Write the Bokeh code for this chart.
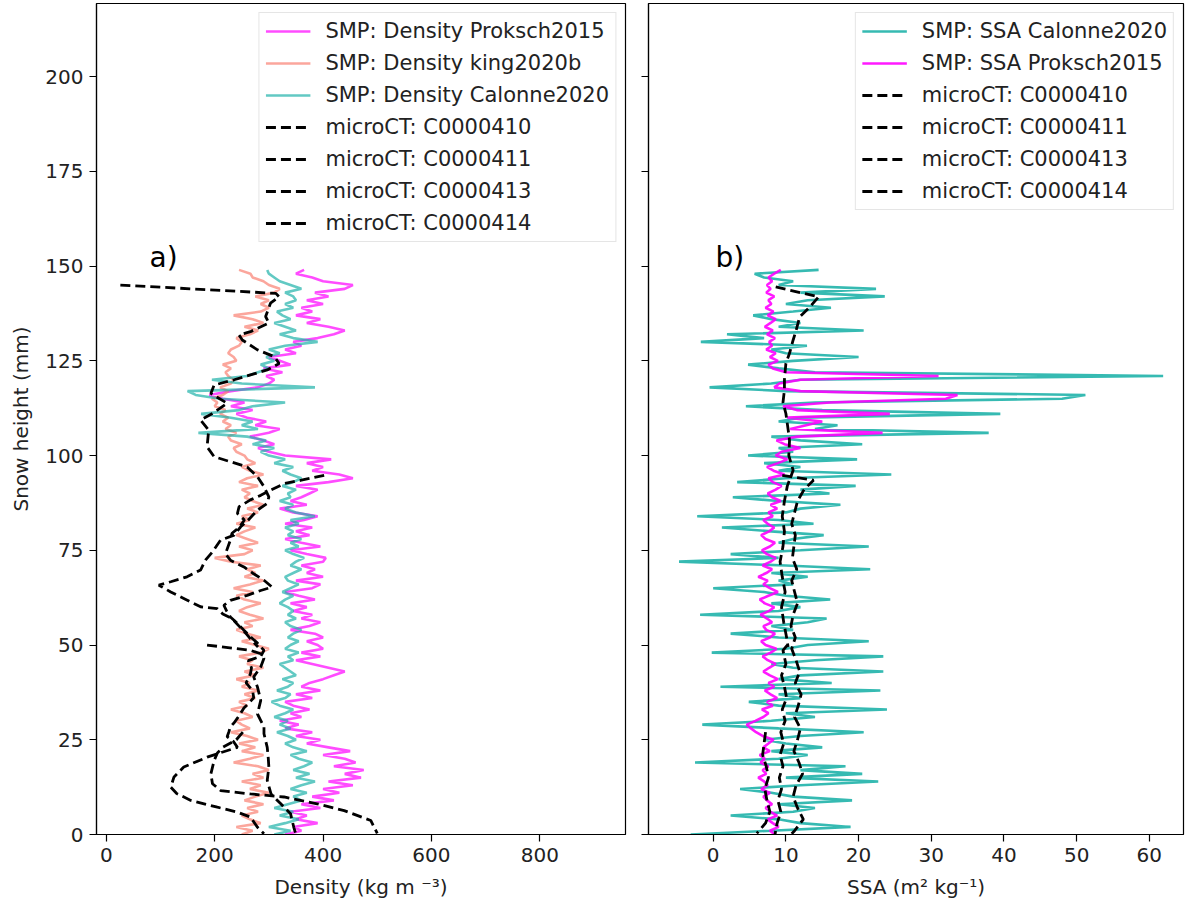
from bokeh.plotting import figure
from bokeh.layouts import row
from bokeh.models import Range1d, FixedTicker, Legend, LegendItem, Label, CustomJSTickFormatter
from bokeh.embed import file_html
from bokeh.resources import INLINE

# ---------------- data ----------------
smp_height = list(range(150))  # mm, SMP sample heights

density_proksch = [
    330, 360, 345, 390, 350, 370, 340, 395, 360, 420,
    380, 430, 400, 455, 410, 470, 440, 475, 420, 460,
    440, 400, 450, 410, 370, 395, 350, 380, 330, 355,
    320, 360, 340, 375, 345, 330, 380, 350, 395, 360,
    375, 400, 420, 440, 410, 380, 350, 395, 360, 400,
    390, 370, 400, 385, 340, 375, 395, 360, 380, 345,
    370, 340, 385, 355, 330, 380, 395, 350, 400, 370,
    385, 360, 400, 405, 370, 340, 395, 360, 330, 375,
    350, 380, 330, 365, 390, 345, 320, 370, 340, 360,
    375, 390, 350, 410, 455, 430, 380, 400, 370, 415,
    330, 300, 280, 310, 290, 265, 300, 320, 275, 295,
    260, 240, 270, 230, 255, 215, 190, 230, 280, 300,
    310, 295, 325, 290, 340, 320, 300, 350, 330, 360,
    345, 390, 420, 440, 410, 370, 395, 350, 380, 360,
    400, 370, 410, 385, 440, 455, 400, 380, 350, 365]

density_king = [
    250, 270, 240, 285, 265, 250, 280, 260, 290, 255,
    275, 300, 265, 285, 250, 290, 270, 300, 280, 235,
    265, 290, 250, 275, 245, 280, 260, 230, 265, 250,
    240, 270, 255, 230, 260, 245, 275, 255, 280, 250,
    265, 240, 275, 255, 290, 260, 270, 245, 285, 300,
    275, 250, 285, 260, 240, 270, 255, 290, 265, 245,
    260, 285, 255, 240, 270, 235, 265, 290, 255, 275,
    260, 285, 230, 200, 255, 270, 245, 280, 260, 240,
    255, 275, 240, 265, 250, 280, 260, 290, 270, 255,
    265, 250, 280, 245, 260, 290, 265, 250, 275, 260,
    255, 240, 235, 250, 230, 225, 240, 220, 230, 215,
    225, 210, 220, 200, 205, 195, 215, 225, 210, 230,
    235, 225, 220, 230, 215, 240, 235, 225, 230, 245,
    250, 240, 265, 280, 255, 290, 270, 235, 285, 300,
    285, 300, 275, 310, 320, 300, 290, 270, 266, 245]

density_calonne = [
    310, 340, 300, 330, 355, 320, 345, 310, 335, 360,
    345, 370, 340, 360, 385, 350, 375, 345, 365, 380,
    355, 340, 370, 345, 330, 350, 335, 315, 340, 320,
    335, 310, 330, 345, 320, 305, 330, 340, 315, 335,
    345, 325, 350, 340, 330, 320, 345, 335, 355, 330,
    340, 355, 335, 345, 360, 340, 330, 350, 335, 345,
    335, 320, 330, 345, 325, 340, 355, 335, 330, 345,
    360, 340, 350, 365, 345, 330, 355, 340, 360, 335,
    345, 330, 355, 340, 385, 350, 330, 345, 320, 340,
    335, 350, 325, 345, 360, 340, 325, 345, 310, 330,
    300, 285, 310, 270, 295, 260, 170, 280, 250, 270,
    230, 175, 245, 270, 330, 210, 165, 150, 385, 250,
    195, 260, 280, 300, 285, 310, 295, 320, 300, 330,
    390, 345, 320, 350, 330, 310, 340, 325, 315, 345,
    330, 350, 345, 330, 360, 340, 320, 310, 300, 297]

ssa_calonne = [
    -3.1, 8, 18.9, 12, 9, 2.4, 11, 14, 9, 19.1,
    11, 8, 3.7, 12, 22.7, 10, 20.5, 12, 18.2, -2.5,
    9, 13, 8, 15, 10, 7, 12, 20.7, 9, -1.5,
    8, 14, 10, 23.9, 9, 4.9, 12, 9, 23, 1,
    16.3, 9, 12, 23.4, 11, 8, 14, 23.4, -0.2, 10,
    13, 21.4, 9, 2.4, 11, 8, 13, 15.6, -1.8, 9,
    12, 8, 16.1, 10, 7, 0, 11, 9, 13, 8,
    21.6, 10, -4.7, 9, 2.4, 12, 21.4, 9, 11, 15.2,
    8, 1.2, 13.8, 9, -2.2, 10, 12, 17.5, 9, 2.7,
    16, 12, 19.6, 3.3, 10, 24.5, 9, 12, 7, 19.8,
    4.8, 11, 9, 20.5, 12, 8, 37.9, 14, 17.1, 9,
    12, 39.5, 15, 4.5, 14, 48, 51.2, 10, -0.5, 8,
    12, 61.9, 14, 9, 4.8, 11, 20, 10, 8, 12.9,
    -1.7, 7, 1.9, 20.7, 9, 12, 8, 5.5, 11, 16.2,
    10, 13, 23.6, 12, 22.4, 9, 11, 7, 5.7, 14.5]

ssa_proksch = [
    8.5, 7.8, 9, 8.2, 7.5, 8.8, 7.9, 7.2, 8.1, 7.4,
    6.9, 7.8, 6.6, 7.5, 7, 6.2, 7.3, 6.8, 7.6, 6.5,
    7.1, 6.4, 7.8, 6.9, 7.6, 8.3, 6.8, 5.9, 5.2, 4.6,
    5.8, 6.9, 7.6, 6.7, 8.2, 7.4, 8.8, 7.9, 7.1, 8.4,
    7.6, 8.9, 7.8, 6.9, 7.7, 8.6, 7.5, 6.8, 7.9, 8.7,
    7.2, 6.6, 7.8, 8.5, 7.3, 6.9, 8.1, 7.4, 6.5, 7.7,
    8.4, 7.1, 6.4, 7.6, 8.9, 7.8, 6.9, 7.5, 6.2, 7.3,
    8.1, 6.8, 7.9, 8.6, 7.4, 6.7, 7.8, 8.5, 7.2, 6.6,
    7.7, 8.4, 7.5, 6.9, 8.2, 7.6, 8.8, 7.9, 9.3, 8.1,
    7.5, 8.6, 9.4, 8.2, 7.6, 9.8, 8.3, 7.4, 8.9, 10.2,
    8.6, 9.4, 12, 9.8, 8.7, 11.5, 23.3, 10.6, 12.8, 15,
    10.2, 24.3, 11.5, 9.6, 16, 32, 33.6, 12, 8.4, 9.1,
    12, 31, 10, 8.2, 7.6, 8.9, 7.8, 8.6, 7.3, 8.1,
    7.7, 8.5, 7.4, 8.2, 7.1, 7.9, 8.6, 7.5, 8.3, 7.2,
    8, 7.6, 8.4, 7.3, 7.9, 7.4, 8.1, 7.6, 8.4, 9.3]

# microCT density profiles (height mm, density kg m-3)
ct410_density_h = [145.0, 142.8, 141.9, 140.2, 136.7, 135.0, 132.7, 131.8, 130.5, 127.9,
                   126.1, 124.3, 122.6, 120.0, 118.6, 116.4, 113.8, 111.1, 109.4, 106.7,
                   102.3, 99.7, 97.0, 94.4, 91.8, 89.1, 87.4, 85.6, 83.0, 81.2,
                   79.0, 77.7, 74.6, 72.4, 69.8, 68.0, 66.7, 65.8, 64.0, 62.3,
                   60.1, 59.6, 58.2, 57.0, 55.0, 53.0, 51.0, 49.5]
ct410_density = [26, 313, 319, 303, 294, 300, 266, 245, 251, 279,
                 310, 319, 297, 236, 199, 193, 223, 196, 174, 189,
                 186, 199, 260, 279, 291, 300, 297, 279, 262, 248,
                 236, 211, 196, 183, 174, 149, 119, 97, 119, 143,
                 174, 205, 215, 232, 245, 258, 270, 280]

ct411_density_h = [94.8, 93.5, 92.6, 90.9, 89.5, 88.3, 86.5, 84.7, 83.0, 81.0,
                   79.5, 77.7, 74.1, 72.4, 70.6, 68.8, 67.1, 65.3, 64.4, 63.1,
                   61.8, 60.5, 59.0, 57.4, 55.7, 53.9, 52.2, 50.5, 48.6, 47.0,
                   45.9, 44.0, 42.4, 40.0, 38.0, 36.1, 34.5, 33.4, 32.0, 30.7,
                   29.5, 28.4, 27.0, 25.8, 24.5, 23.0, 21.3, 20.4, 17.8, 15.2,
                   12.5, 10.8, 9.0, 7.2, 5.9, 4.6, 1.9, 0.2]
ct411_density = [402, 360, 328, 304, 285, 266, 245, 242, 255, 245,
                 232, 229, 220, 229, 254, 272, 291, 306, 285, 260,
                 229, 217, 222, 229, 242, 254, 266, 279, 291, 285,
                 262, 268, 266, 258, 270, 272, 262, 254, 248, 242,
                 236, 229, 226, 223, 235, 242, 205, 186, 143, 125,
                 119, 130, 156, 205, 242, 266, 279, 291]

ct413_density_h = [50.0, 48.6, 47.7, 46.5, 44.2, 41.6, 38.9, 35.4, 31.8, 28.4,
                   26.6, 23.0, 20.0, 17.8, 14.3, 10.7, 8.1, 5.5, 1.9, 0.0]
ct413_density = [186, 266, 285, 291, 285, 272, 279, 285, 279, 291,
                 291, 297, 299, 300, 297, 304, 322, 340, 346, 350]

ct414_density_h = [27.0, 25.0, 23.0, 21.5, 19.5, 16.0, 13.4, 11.6, 10.7, 9.9,
                   8.1, 6.3, 3.7, 0.3]
ct414_density = [252, 240, 215, 205, 199, 193, 196, 211, 266, 328,
                 389, 439, 488, 500]

# microCT SSA profiles (height mm, SSA m2 kg-1)
ct410_ssa_h = [144.5, 141.9, 139.0, 136.6, 133.0, 130.5, 127.0, 124.3, 120.0, 117.3,
               114.0, 111.1, 107.0, 104.0, 100.0, 96.1, 92.0, 88.0, 84.0, 80.0,
               76.0, 72.0, 68.0, 64.0, 60.0, 56.0, 52.0, 49.5]
ct410_ssa = [8.6, 14.5, 13.2, 11.9, 11.4, 11.0, 10.5, 10.0, 9.8, 9.8,
             9.6, 10.0, 10.3, 10.5, 10.4, 11.0, 10.2, 9.8, 9.5, 9.8,
             9.6, 9.2, 9.5, 9.9, 9.4, 9.7, 10.1, 10.3]

ct411_ssa_h = [94.8, 93.5, 91.0, 88.0, 85.0, 82.0, 79.0, 76.0, 73.0, 70.0,
               67.0, 64.0, 61.0, 58.0, 55.0, 52.0, 49.0, 46.0, 43.0, 40.0,
               37.0, 34.0, 31.0, 28.0, 25.0, 22.0, 19.0, 16.0, 13.0, 10.0,
               7.0, 4.0, 1.0, 0.2]
ct411_ssa = [9.5, 13.8, 12.5, 11.6, 11.2, 10.8, 11.3, 11.1, 10.9, 11.5,
             10.8, 11.2, 11.6, 11.0, 10.7, 11.3, 10.8, 11.4, 11.9, 11.3,
             12.1, 11.7, 11.2, 12.0, 11.6, 11.1, 11.8, 12.3, 11.4, 11.0,
             11.6, 12.4, 11.2, 10.8]

ct413_ssa_h = [50.0, 48.6, 45.0, 42.0, 39.0, 36.0, 33.0, 30.0, 27.0, 24.0,
               21.0, 18.0, 15.0, 12.0, 9.0, 6.0, 3.0, 0.0]
ct413_ssa = [10.2, 9.6, 10.0, 9.4, 9.8, 10.1, 9.5, 9.9, 9.3, 9.7,
             9.2, 9.6, 9.1, 9.4, 8.9, 9.3, 8.8, 8.5]

ct414_ssa_h = [27.0, 24.0, 21.0, 18.0, 15.0, 12.0, 9.0, 6.0, 3.0, 0.3]
ct414_ssa = [7.2, 7.0, 6.8, 7.3, 7.6, 7.1, 7.4, 7.8, 7.2, 6.0]

y_ticks = [0, 25, 50, 75, 100, 125, 150, 175, 200]
density_ticks = [0, 200, 400, 600, 800]
ssa_ticks = [0, 10, 20, 30, 40, 50, 60]
ct_names = ["microCT: C0000410", "microCT: C0000411", "microCT: C0000413", "microCT: C0000414"]

# ---------------- styling ----------------
FONT = "DejaVu Sans"
TXT = "#222222"
y_range = Range1d(0, 219.3)


def style(p, xticks, xlabel, ylabel):
    p.xgrid.visible = False
    p.ygrid.visible = False
    p.xaxis.ticker = FixedTicker(ticks=xticks)
    p.yaxis.ticker = FixedTicker(ticks=y_ticks)
    p.outline_line_color = "black"
    p.outline_line_width = 1.2
    p.background_fill_color = "white"
    p.border_fill_color = "white"
    for ax in p.axis:
        ax.major_tick_out = 7
        ax.major_tick_in = 0
        ax.minor_tick_out = 0
        ax.minor_tick_in = 0
        ax.axis_line_color = "black"
        ax.axis_line_width = 1.2
        ax.major_tick_line_color = "black"
        ax.major_tick_line_width = 1.2
        ax.major_label_text_font = FONT
        ax.major_label_text_font_size = "20px"
        ax.major_label_text_color = TXT
        ax.major_label_standoff = 6
        ax.axis_label_text_font = FONT
        ax.axis_label_text_font_size = "20px"
        ax.axis_label_text_font_style = "normal"
        ax.axis_label_text_color = TXT
    p.xaxis.axis_label = xlabel
    p.xaxis.axis_label_standoff = 10
    if ylabel:
        p.yaxis.axis_label = ylabel
        p.yaxis.axis_label_standoff = 9


def make_legend(items):
    return Legend(items=items, location="top_right", label_text_font=FONT,
                  label_text_font_size="21px", label_text_color=TXT,
                  glyph_width=45, glyph_height=24, label_height=24, spacing=8,
                  padding=6, margin=9, label_standoff=15,
                  border_line_color="#cccccc", border_line_width=1,
                  background_fill_color="white", background_fill_alpha=0.8)


# ---------------- left panel: density ----------------
p1 = figure(width=636, height=908, x_range=Range1d(-18, 958), y_range=y_range,
            output_backend="svg", toolbar_location=None,
            min_border_left=96, min_border_right=11, min_border_top=3, min_border_bottom=74)
style(p1, density_ticks, "Density (kg m \u207b\u00b3)", "Snow height (mm)")

r_dp = p1.line(density_proksch, smp_height, line_color="magenta", line_alpha=0.7, line_width=2.6)
r_dk = p1.line(density_king, smp_height, line_color="salmon", line_alpha=0.7, line_width=2.6)
r_dc = p1.line(density_calonne, smp_height, line_color="lightseagreen", line_alpha=0.7, line_width=2.6)
ct_d = [(ct410_density, ct410_density_h), (ct411_density, ct411_density_h),
        (ct413_density, ct413_density_h), (ct414_density, ct414_density_h)]
r_ctd = [p1.line(x, h, line_color="black", line_width=2.8, line_dash="10 5") for x, h in ct_d]

leg1 = make_legend([LegendItem(label="SMP: Density Proksch2015", renderers=[r_dp]),
                    LegendItem(label="SMP: Density king2020b", renderers=[r_dk]),
                    LegendItem(label="SMP: Density Calonne2020", renderers=[r_dc])] +
                   [LegendItem(label=n, renderers=[r]) for n, r in zip(ct_names, r_ctd)])
p1.add_layout(leg1)
p1.add_layout(Label(x=80, y=152.2, text="a)", text_font=FONT, text_font_size="28px",
                    text_color="black", text_baseline="middle"))

# ---------------- right panel: SSA ----------------
p2 = figure(width=552, height=908, x_range=Range1d(-8.9, 64.7), y_range=y_range,
            output_backend="svg", toolbar_location=None,
            min_border_left=12, min_border_right=5, min_border_top=3, min_border_bottom=74)
style(p2, ssa_ticks, "SSA (m\u00b2 kg\u207b\u00b9)", None)
p2.yaxis.formatter = CustomJSTickFormatter(code="return ''")
p2.yaxis.major_label_standoff = 0

r_sc = p2.line(ssa_calonne, smp_height, line_color="lightseagreen", line_alpha=0.9, line_width=2.6)
r_sp = p2.line(ssa_proksch, smp_height, line_color="magenta", line_alpha=0.9, line_width=2.6)
ct_s = [(ct410_ssa, ct410_ssa_h), (ct411_ssa, ct411_ssa_h),
        (ct413_ssa, ct413_ssa_h), (ct414_ssa, ct414_ssa_h)]
r_cts = [p2.line(x, h, line_color="black", line_width=2.8, line_dash="10 5") for x, h in ct_s]

leg2 = make_legend([LegendItem(label="SMP: SSA Calonne2020", renderers=[r_sc]),
                    LegendItem(label="SMP: SSA Proksch2015", renderers=[r_sp])] +
                   [LegendItem(label=n, renderers=[r]) for n, r in zip(ct_names, r_cts)])
p2.add_layout(leg2)
p2.add_layout(Label(x=0.3, y=152.2, text="b)", text_font=FONT, text_font_size="28px",
                    text_color="black", text_baseline="middle"))

layout = row(p1, p2)
open("out.html", "w").write(file_html(layout, INLINE))
